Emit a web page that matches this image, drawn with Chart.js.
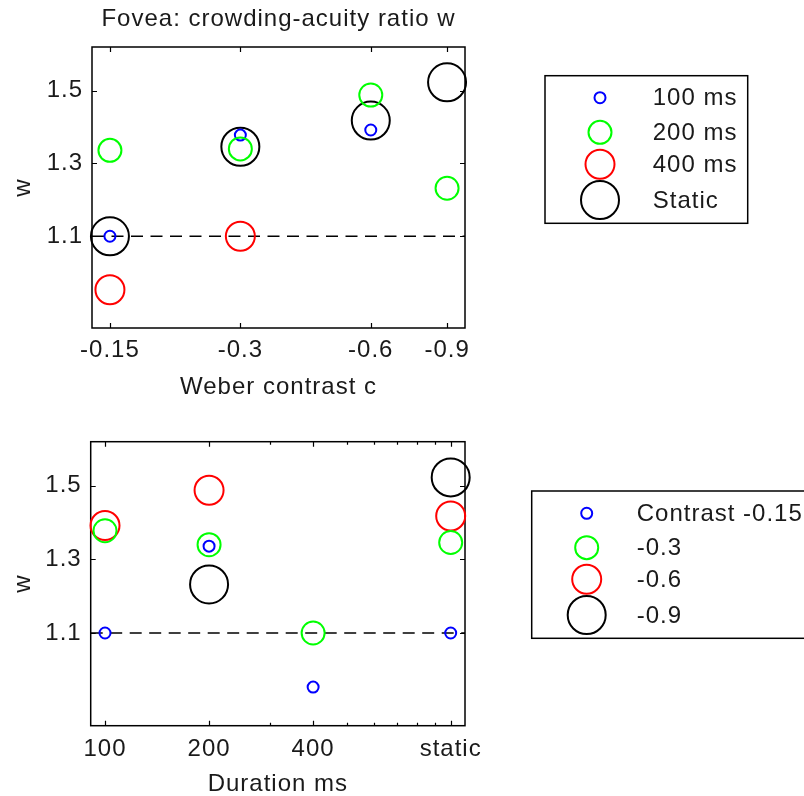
<!DOCTYPE html>
<html>
<head>
<meta charset="utf-8">
<script src="https://cdn.jsdelivr.net/npm/chart.js@4.4.1/dist/chart.umd.min.js"></script>
<style>
  html, body { margin: 0; padding: 0; background: #fff; }
  #wrap { position: relative; width: 804px; height: 796px; overflow: hidden; }
  canvas { position: absolute; left: 0; }
  #topChart { top: 0; }
  #bottomChart { top: 400px; }
</style>
</head>
<body>
<div id="wrap">
  <canvas id="topChart" width="804" height="400"></canvas>
  <canvas id="bottomChart" width="804" height="396"></canvas>
</div>
<script>
// Weber contrasts (x of the upper panel) and stimulus durations (x of the lower panel)
const contrasts = [-0.15, -0.3, -0.6, -0.9];
const contrastTickLabels = ['-0.15', '-0.3', '-0.6', '-0.9'];
const durations = [100, 200, 400, 1000];          // the static condition sits at 1000 ms
const durationTickLabels = ['100', '200', '400', 'static'];
const durationMinorTicks = [300, 500, 600, 700, 800, 900];

// crowding-acuity ratio w for each duration, indexed like `contrasts` (null = not measured)
const w100ms  = [1.100, 1.378, 1.392, null];
const w200ms  = [1.336, 1.340, 1.488, 1.232];
const w400ms  = [0.953, 1.100, null,  null];
const wStatic = [1.100, 1.346, 1.418, 1.523];

const durationNames = ['100 ms', '200 ms', '400 ms', 'Static'];
const contrastNames = ['Contrast -0.15', '-0.3', '-0.6', '-0.9'];
const wTicks = [1.1, 1.3, 1.5];
const referenceW = 1.1;

const wByDuration = [w100ms, w200ms, w400ms, wStatic];

// marker look, one per series position
const COLORS = ['#0000ff', '#00ff00', '#ff0000', '#000000'];
const RADII = [5.5, 11.5, 14.5, 19];
const DRAW_ORDER = [2, 1, 3, 4];   // lower value is painted on top
const FONT_FAMILY = "'Liberation Sans', Arial, Helvetica, sans-serif";
const TEXT_COLOR = '#1a1a1a';
const FONT_SIZE = 24;
const FONT = { family: FONT_FAMILY, size: FONT_SIZE };

const W_MIN = 0.848, W_MAX = 1.62;

// MATLAB-like bitmap text is a bit wider than the outline font; widen it slightly
const letterSpacing = {
  id: 'letterSpacing',
  beforeDraw(chart) { chart.ctx.letterSpacing = '1px'; }
};

// box frame with inward tick marks on all four sides
const boxAxes = {
  id: 'boxAxes',
  beforeDatasetsDraw(chart, args, o) {
    const { ctx, chartArea: a, scales: { x, y } } = chart;
    ctx.save();
    ctx.strokeStyle = '#000';
    ctx.lineWidth = 1.5;
    ctx.strokeRect(a.left, a.top, a.right - a.left, a.bottom - a.top);
    ctx.beginPath();
    const xMarks = (o.xMajor || []).map(v => [v, 5]).concat((o.xMinor || []).map(v => [v, 3]));
    xMarks.forEach(([v, len]) => {
      const px = Math.round(x.getPixelForValue(v)) + 0.5;
      ctx.moveTo(px, a.bottom); ctx.lineTo(px, a.bottom - len);
      ctx.moveTo(px, a.top); ctx.lineTo(px, a.top + len);
    });
    (o.yMajor || []).forEach(v => {
      const py = Math.round(y.getPixelForValue(v)) + 0.5;
      ctx.moveTo(a.left, py); ctx.lineTo(a.left + 5, py);
      ctx.moveTo(a.right, py); ctx.lineTo(a.right - 5, py);
    });
    ctx.lineWidth = 1.2;
    ctx.stroke();
    ctx.restore();
  }
};

// boxed legend whose circles share each series' marker size
const sizeLegend = {
  id: 'sizeLegend',
  afterDraw(chart, args, o) {
    const ctx = chart.ctx;
    ctx.save();
    ctx.strokeStyle = '#000';
    ctx.lineWidth = 1.5;
    ctx.strokeRect(o.box[0], o.box[1], o.box[2] - o.box[0], o.box[3] - o.box[1]);
    ctx.font = `${FONT_SIZE}px ${FONT_FAMILY}`;
    ctx.fillStyle = TEXT_COLOR;
    ctx.textAlign = 'left';
    ctx.textBaseline = 'middle';
    chart.data.datasets.filter(d => !d.isReference).forEach((d, k) => {
      const yy = o.rows[k];
      ctx.beginPath();
      ctx.arc(o.markerX, yy, d.pointRadius, 0, Math.PI * 2);
      ctx.lineWidth = d.pointBorderWidth;
      ctx.strokeStyle = d.pointBorderColor;
      ctx.stroke();
      ctx.fillText(d.label, o.textX, yy + 1);
    });
    ctx.restore();
  }
};

function markerSeries(label, points, k) {
  return {
    label,
    data: points,
    borderColor: COLORS[k],
    pointBorderColor: COLORS[k],
    backgroundColor: 'rgba(0,0,0,0)',
    pointBackgroundColor: 'rgba(0,0,0,0)',
    pointRadius: RADII[k],
    pointHoverRadius: RADII[k],
    pointBorderWidth: 2,
    showLine: false,
    order: DRAW_ORDER[k],
    clip: false
  };
}

function referenceSeries(xMin, xMax) {
  return {
    type: 'line',
    isReference: true,
    label: 'w = 1.1',
    data: [{ x: xMin, y: referenceW }, { x: xMax, y: referenceW }],
    borderColor: '#000',
    borderWidth: 1.4,
    borderDash: [12, 7.5],
    pointRadius: 0,
    order: 10,
    clip: false
  };
}

function panelOptions(cfg) {
  return {
    responsive: false,
    animation: false,
    events: [],
    layout: { padding: { left: 0, right: 339, top: cfg.padTop, bottom: 0 } },
    plugins: {
      legend: { display: false },
      tooltip: { enabled: false },
      title: cfg.title ? {
        display: true, text: cfg.title, color: TEXT_COLOR, fullSize: false,
        font: { family: FONT_FAMILY, size: FONT_SIZE, weight: 'normal', lineHeight: 1.2 },
        padding: { top: 5, bottom: 13.2 }
      } : { display: false },
      boxAxes: { xMajor: cfg.xTicks, xMinor: cfg.xMinor, yMajor: wTicks },
      sizeLegend: cfg.legend
    },
    scales: {
      x: {
        type: 'logarithmic',
        min: cfg.xMin, max: cfg.xMax,
        afterBuildTicks: s => { s.ticks = cfg.xTicks.map(v => ({ value: v })); },
        afterFit: s => { s.height = cfg.xAxisHeight; },
        grid: { display: false, drawTicks: false },
        border: { display: false },
        ticks: {
          autoSkip: false, maxRotation: 0, padding: cfg.xTickPad,
          color: TEXT_COLOR, font: FONT,
          callback: (v, i) => cfg.xLabels[i]
        },
        title: {
          display: true, text: cfg.xTitle, color: TEXT_COLOR,
          font: { family: FONT_FAMILY, size: FONT_SIZE, lineHeight: 1 },
          padding: { top: 0, bottom: cfg.xTitlePad }
        }
      },
      y: {
        type: 'linear',
        min: W_MIN, max: W_MAX,
        afterBuildTicks: s => { s.ticks = wTicks.map(v => ({ value: v })); },
        afterFit: s => { s.width = cfg.yAxisWidth; },
        grid: { display: false, drawTicks: false },
        border: { display: false },
        ticks: {
          padding: 9, color: TEXT_COLOR, font: FONT,
          callback: v => v.toFixed(1)
        },
        title: {
          display: true, text: 'w', color: TEXT_COLOR,
          font: { family: FONT_FAMILY, size: FONT_SIZE, lineHeight: 1.2 },
          padding: { top: 8.5, bottom: 0 }
        }
      }
    }
  };
}

// upper panel: w against contrast, one series per duration
const cAbs = contrasts.map(c => Math.abs(c));
const cMin = cAbs[0] / 1.1, cMax = cAbs[cAbs.length - 1] * 1.1;
const topSets = wByDuration.map((row, k) =>
  markerSeries(durationNames[k], cAbs.map((c, j) => ({ x: c, y: row[j] })), k));
topSets.push(referenceSeries(cMin, cMax));

new Chart(document.getElementById('topChart'), {
  type: 'scatter',
  data: { datasets: topSets },
  options: panelOptions({
    title: 'Fovea: crowding-acuity ratio w',
    padTop: 0,
    xMin: cMin, xMax: cMax, xTicks: cAbs, xMinor: [], xLabels: contrastTickLabels,
    xTitle: 'Weber contrast c', xTitlePad: 0.5, xTickPad: 8,
    xAxisHeight: 72, yAxisWidth: 92,
    legend: { box: [545, 75.7, 747.7, 223.3], markerX: 600, textX: 652.7, rows: [97.7, 132.3, 164.3, 200] }
  }),
  plugins: [letterSpacing, boxAxes, sizeLegend]
});

// lower panel: w against duration, one series per contrast
const dMin = durations[0] / 1.1, dMax = durations[durations.length - 1] * 1.1;
const bottomSets = contrasts.map((c, j) =>
  markerSeries(contrastNames[j], durations.map((d, i) => ({ x: d, y: wByDuration[i][j] })), j));
bottomSets.push(referenceSeries(dMin, dMax));

new Chart(document.getElementById('bottomChart'), {
  type: 'scatter',
  data: { datasets: bottomSets },
  options: panelOptions({
    title: null,
    padTop: 41.7,
    xMin: dMin, xMax: dMax, xTicks: durations, xMinor: durationMinorTicks, xLabels: durationTickLabels,
    xTitle: 'Duration ms', xTitlePad: 0, xTickPad: 9.5,
    xAxisHeight: 70.3, yAxisWidth: 90.7,
    legend: { box: [531.7, 91, 812, 238.3], markerX: 586.7, textX: 636.7, rows: [113.3, 147.7, 179.3, 215] }
  }),
  plugins: [letterSpacing, boxAxes, sizeLegend]
});
</script>
</body>
</html>
